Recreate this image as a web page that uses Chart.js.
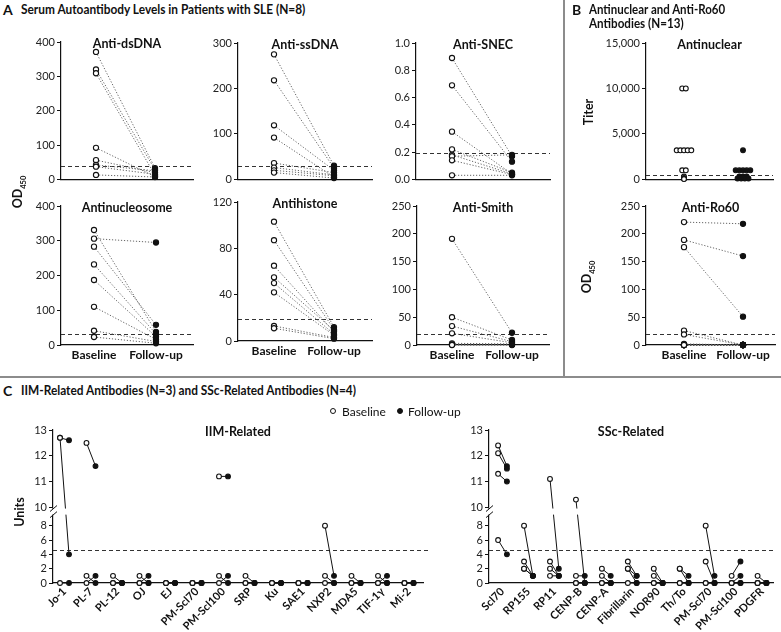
<!DOCTYPE html>
<html>
<head>
<meta charset="utf-8">
<title>Serum autoantibody levels</title>
<script src="https://cdn.jsdelivr.net/npm/chart.js@4.4.1/dist/chart.umd.min.js"></script>
<style>
  body { margin: 0; background: #fff; font-family: Lato, "Open Sans", sans-serif; color: #111; }
  #page { position: relative; width: 781px; height: 632px; overflow: hidden; }
  #charts canvas { position: absolute; }
  .txt { position: absolute; white-space: nowrap; transform-origin: 0 50%; }
  .head { font-weight: 700; font-size: 12.5px; line-height: 14px; }
  .letter { font-weight: 700; font-size: 14px; line-height: 14px; }
  .ylab { position: absolute; font-weight: 700; font-size: 12.5px; white-space: nowrap;
          transform: translate(-50%, -50%) rotate(-90deg); }
  .ylab sub { font-size: 7.5px; }
  .rule { position: absolute; background: #8c8c8c; }
  .legend { font-size: 12px; line-height: 14px; }
  .dot { position: absolute; width: 4px; height: 4px; border-radius: 50%; border: 1.2px solid #111; }
</style>
</head>
<body>
<div id="page">
  <div id="charts"></div>

  <div class="rule" style="left:563px; top:0; width:1.5px; height:376px"></div>
  <div class="rule" style="left:0; top:376px; width:781px; height:1.5px"></div>

  <div class="txt letter" style="left:3px; top:3px">A</div>
  <div class="txt head" style="left:21px; top:3px" data-w="284">Serum Autoantibody Levels in Patients with SLE (N=8)</div>
  <div class="txt letter" style="left:572px; top:3px">B</div>
  <div class="txt head" style="left:589px; top:3px" data-w="136">Antinuclear and Anti-Ro60</div>
  <div class="txt head" style="left:589px; top:17px" data-w="95">Antibodies (N=13)</div>
  <div class="txt letter" style="left:3px; top:384px">C</div>
  <div class="txt head" style="left:21px; top:384px" data-w="335">IIM-Related Antibodies (N=3) and SSc-Related Antibodies (N=4)</div>

  <div class="ylab" style="left:19px; top:192px">OD<sub>450</sub></div>
  <div class="ylab" style="left:588px; top:112px">Titer</div>
  <div class="ylab" style="left:588px; top:277px">OD<sub>450</sub></div>
  <div class="ylab" style="left:19px; top:512px">Units</div>

  <div class="dot" style="left:330px; top:408px; background:#fff"></div>
  <div class="txt legend" style="left:342px; top:405px">Baseline</div>
  <div class="dot" style="left:397px; top:408px; background:#111"></div>
  <div class="txt legend" style="left:408px; top:405px">Follow-up</div>
</div>

<script>
// ---- values ----
const timeLabels = ['Baseline', 'Follow-up'];

// Panel A, SLE (N=8), OD450
const dsDnaBase   = [371, 320, 309, 92, 56, 42, 37, 13];
const dsDnaFollow = [33, 28, 12, 8, 20, 25, 15, 7];
const ssDnaBase   = [275, 218, 119, 92, 36, 26, 20, 15];
const ssDnaFollow = [30, 25, 20, 5, 15, 10, 8, 3];
const snecBase    = [0.89, 0.69, 0.35, 0.22, 0.18, 0.17, 0.14, 0.03];
const snecFollow  = [0.17, 0.13, 0.04, 0.05, 0.04, 0.18, 0.035, 0.03];
const nucleosomeBase   = [331, 306, 283, 232, 187, 110, 41, 23];
const nucleosomeFollow = [38, 295, 58, 32, 24, 16, 10, 5];
const histoneBase   = [103, 87, 65, 55, 50, 42, 13, 11];
const histoneFollow = [12, 10, 8, 9, 6, 5, 3, 2];
const smithBase   = [191, 50, 34, 21, 3, 1, 0.5, 0];
const smithFollow = [22, 9, 6, 4, 2, 1, 0.5, 0];
const sleCutoffs  = [40, 30, 0.195, 32, 19, 20];

const ticks400 = [0, 100, 200, 300, 400];
const ticks300 = [0, 100, 200, 300];
const ticksSnec = [0, 0.2, 0.4, 0.6, 0.8, 1.0];
const ticks120 = [0, 40, 80, 120];
const ticks250 = [0, 50, 100, 150, 200, 250];

// Panel B (N=13)
const anaBase   = [10000, 10000, 3200, 3200, 3200, 3200, 3200, 1000, 1000, 320, 160, 80, 40];
const anaFollow = [3200, 1000, 1000, 1000, 1000, 1000, 320, 320, 320, 100, 100, 100, 100];
const anaTicks  = [0, 5000, 10000, 15000];
const anaCutoff = 500;
const ro60Base   = [221, 189, 176, 26, 19, 2, 0, 0, 0, 0, 0, 0, 0];
const ro60Follow = [218, 160, 51, 0, 0, 0, 0, 0, 0, 0, 0, 0, 0];
const ro60Cutoff = 20;

// Panel C, one row per patient
const iimNames = ['Jo-1', 'PL-7', 'PL-12', 'OJ', 'EJ', 'PM-Scl70', 'PM-Scl100', 'SRP', 'Ku', 'SAE1', 'NXP2', 'MDA5', 'TIF-1γ', 'Mi-2'];
const iimBase = [
  [12.7, 12.5, 1, 1, 0, 0, 11.2, 1, 0, 0, 8, 1, 1, 0],
  [12.7, 1, 0, 0, 0, 0, 1, 0, 0, 0, 1, 0, 0, 0],
  [0, 0, 0, 0, 0, 0, 0, 0, 0, 0, 0, 0, 0, 0]
];
const iimFollow = [
  [12.6, 11.6, 0, 0, 0, 0, 11.2, 0, 0, 0, 1, 0, 0, 0],
  [4, 0, 0, 1, 0, 0, 0, 0, 0, 0, 0, 0, 1, 0],
  [0, 1, 0, 0, 0, 0, 1, 0, 0, 0, 0, 0, 0, 0]
];
const sscNames = ['Scl70', 'RP155', 'RP11', 'CENP-B', 'CENP-A', 'Fibrillarin', 'NOR90', 'Th/To', 'PM-Scl70', 'PM-Scl100', 'PDGFR'];
const sscBase = [
  [12.4, 8, 11.1, 10.3, 2, 3, 2, 2, 8, 1, 1],
  [12.1, 3, 3, 1, 1, 2, 1, 2, 3, 0, 0],
  [11.3, 2, 2, 0, 0, 2, 0, 0, 0, 0, 0],
  [6, 2, 1, 0, 0, 0, 0, 0, 0, 0, 0]
];
const sscFollow = [
  [11.6, 1, 2, 0, 1, 1, 0, 1, 1, 3, 0],
  [11.5, 1, 1, 1, 0, 1, 0, 0, 0, 1, 0],
  [11.0, 1, 1, 0, 0, 0, 0, 0, 0, 0, 0],
  [4, 1, 1, 0, 0, 0, 0, 0, 0, 0, 0]
];
const unitTicks = [0, 2, 4, 6, 8, 10, 11, 12, 13];
const unitCutoff = 4.6;

// ---- broken y axis for panel C: 0-8 normal, 10-13 stretched ----
function toDisplay(v) {
  return v <= 8 ? v : 10.57 + (v - 10) * 3.6;
}

Chart.defaults.font.family = 'Lato';
Chart.defaults.color = '#222';
Chart.defaults.animation = false;
Chart.defaults.events = [];
Chart.defaults.plugins.legend.display = false;
Chart.defaults.plugins.tooltip.enabled = false;

const cutoffLine = {
  id: 'cutoff',
  beforeDatasetsDraw(chart, args, opts) {
    if (opts.value == null) return;
    const { ctx, chartArea, scales } = chart;
    const y = Math.round(scales.y.getPixelForValue(opts.value)) + 0.5;
    ctx.save();
    ctx.strokeStyle = '#333';
    ctx.lineWidth = 1;
    ctx.setLineDash([4, 3]);
    ctx.beginPath();
    ctx.moveTo(chartArea.left, y);
    ctx.lineTo(chartArea.right + (opts.extend || 0), y);
    ctx.stroke();
    ctx.restore();
  }
};

const panelTitle = {
  id: 'panelTitle',
  afterDraw(chart, args, opts) {
    if (!opts.text) return;
    const { ctx, chartArea } = chart;
    ctx.save();
    ctx.font = 'bold 12.5px Lato';
    ctx.fillStyle = '#111';
    ctx.textAlign = 'center';
    ctx.textBaseline = 'middle';
    ctx.fillText(opts.text, (chartArea.left + chartArea.right) / 2, chartArea.top + 2);
    ctx.restore();
  }
};

const axisBreak = {
  id: 'axisBreak',
  afterDraw(chart, args, opts) {
    if (!opts.on) return;
    const { ctx, chartArea, scales } = chart;
    const yTop = scales.y.getPixelForValue(10.4);
    const yBot = scales.y.getPixelForValue(9.55);
    ctx.save();
    ctx.fillStyle = '#fff';
    ctx.fillRect(chartArea.left - 2, yTop, chartArea.right - chartArea.left + 2, yBot - yTop);
    ctx.strokeStyle = '#111';
    ctx.lineWidth = 1;
    const x = chartArea.left;
    [yTop, yBot].forEach(y => {
      ctx.beginPath();
      ctx.moveTo(x - 3, y + 3);
      ctx.lineTo(x + 4, y - 3);
      ctx.stroke();
    });
    ctx.restore();
  }
};

function addCanvas(left, top, width, height) {
  const c = document.createElement('canvas');
  c.width = width;
  c.height = height;
  c.style.left = left + 'px';
  c.style.top = top + 'px';
  c.style.width = width + 'px';
  c.style.height = height + 'px';
  document.getElementById('charts').appendChild(c);
  return c;
}

function scalesFor(o) {
  return {
    x: {
      type: 'linear', min: o.xMin, max: o.xMax,
      afterFit: s => { s.height = o.xh; },
      afterBuildTicks: s => { s.ticks = o.xTicks.map(v => ({ value: v })); },
      grid: { display: false, drawTicks: false },
      border: { display: true, color: '#111', width: 1.2 },
      ticks: {
        display: !!o.xLabels, autoSkip: false,
        maxRotation: o.rotate || 0, minRotation: o.rotate || 0,
        padding: o.xPad ?? 3, color: '#111',
        font: { size: o.xSize || 12, weight: 'bold' },
        callback: (v, i) => (o.xLabels ? o.xLabels[i] : '')
      }
    },
    y: {
      type: 'linear', min: 0, max: o.yMax,
      afterFit: s => { s.width = o.yw; },
      afterBuildTicks: s => { s.ticks = o.yTicks.map(v => ({ value: v })); },
      grid: { drawOnChartArea: false, drawTicks: true, tickLength: 4, color: '#111', lineWidth: 1 },
      border: { display: true, color: '#111', width: 1.2 },
      ticks: { padding: 2, color: '#222', font: { size: 11 }, callback: (v, i) => o.yLabels[i] }
    }
  };
}

// pixel position of baseline / follow-up columns -> linear x range
function xRange(L, R, p0, p1) {
  const u = p1 - p0;
  return [(L - p0) / u, (R - p0) / u];
}

function makeChart(area, datasets, o, title, cutoff, extra) {
  const [L, T, R, B] = area;
  const padTop = 12, padRight = o.padRight ?? 6;
  const canvas = addCanvas(L - o.yw, T - padTop, R - L + o.yw + padRight, B - T + padTop + o.xh);
  return new Chart(canvas, {
    type: 'scatter',
    data: { datasets },
    options: {
      responsive: false,
      layout: { padding: { top: padTop, right: padRight, left: 0, bottom: 0 } },
      scales: scalesFor(o),
      plugins: {
        cutoff: { value: cutoff, extend: o.extend || 0 },
        panelTitle: { text: title },
        axisBreak: { on: !!o.broken }
      }
    },
    plugins: [cutoffLine, panelTitle, axisBreak].concat(extra || [])
  });
}

const openPt = { pointBackgroundColor: '#fff', pointBorderColor: '#111', pointBorderWidth: 1.1, pointRadius: 2.6, showLine: false, clip: false };
const filledPt = { pointBackgroundColor: '#111', pointBorderColor: '#111', pointBorderWidth: 1.1, pointRadius: 2.6, showLine: false, clip: false };

function pairedSets(base, follow, withLines) {
  const sets = [
    Object.assign({ data: follow.map(v => ({ x: 1, y: v })) }, filledPt),
    Object.assign({ data: base.map(v => ({ x: 0, y: v })) }, openPt)
  ];
  if (withLines) {
    base.forEach((b, i) => sets.push({
      data: [{ x: 0, y: b }, { x: 1, y: follow[i] }],
      showLine: true, pointRadius: 0, borderColor: '#555', borderWidth: 0.9,
      borderDash: [1.2, 1.8], clip: false
    }));
  }
  return sets;
}

// equal values spread side by side, as in the figure
function swarm(values, col, step) {
  const seen = {};
  const counts = {};
  values.forEach(v => { counts[v] = (counts[v] || 0) + 1; });
  return values.map(v => {
    const k = seen[v] = (seen[v] ?? -1) + 1;
    return { x: col + (k - (counts[v] - 1) / 2) * step, y: v };
  });
}

function fmtTicks(t, dp) { return t.map(v => dp ? v.toFixed(dp) : v.toLocaleString('en-US')); }

// ---- Panel A ----
const slePanels = [
  { title: 'Anti-dsDNA', base: dsDnaBase, follow: dsDnaFollow, ticks: ticks400, area: [61, 42, 193, 180], cols: [96, 155] },
  { title: 'Anti-ssDNA', base: ssDnaBase, follow: ssDnaFollow, ticks: ticks300, area: [238, 43, 372, 180], cols: [274, 334] },
  { title: 'Anti-SNEC', base: snecBase, follow: snecFollow, ticks: ticksSnec, dp: 1, area: [416, 43, 550, 180], cols: [452, 512] },
  { title: 'Antinucleosome', base: nucleosomeBase, follow: nucleosomeFollow, ticks: ticks400, area: [61, 206, 193, 345], cols: [94, 156], labels: true },
  { title: 'Antihistone', base: histoneBase, follow: histoneFollow, ticks: ticks120, area: [238, 202, 372, 341], cols: [274, 334], labels: true },
  { title: 'Anti-Smith', base: smithBase, follow: smithFollow, ticks: ticks250, area: [417, 206, 549, 345], cols: [452, 512], labels: true }
];

slePanels.forEach((p, i) => {
  const [xMin, xMax] = xRange(p.area[0], p.area[2], p.cols[0], p.cols[1]);
  makeChart(p.area, pairedSets(p.base, p.follow, true), {
    xMin, xMax, xTicks: [0, 1], xLabels: p.labels ? timeLabels : null, xh: p.labels ? 24 : 8,
    yMax: p.ticks[p.ticks.length - 1], yTicks: p.ticks, yLabels: fmtTicks(p.ticks, p.dp), yw: 40
  }, p.title, sleCutoffs[i]);
});

// ---- Panel B ----
(function () {
  const area = [646, 43, 773, 180];
  const [xMin, xMax] = xRange(area[0], area[2], 684, 743);
  const sets = [
    Object.assign({ data: swarm(anaFollow, 1, 0.062) }, filledPt, { pointRadius: 2.4 }),
    Object.assign({ data: swarm(anaBase, 0, 0.062) }, openPt, { pointRadius: 2.4 })
  ];
  makeChart(area, sets, {
    xMin, xMax, xTicks: [0, 1], xLabels: null, xh: 8, padRight: 8,
    yMax: 15000, yTicks: anaTicks, yLabels: fmtTicks(anaTicks), yw: 56
  }, 'Antinuclear', anaCutoff);
})();

(function () {
  const area = [646, 206, 775, 345];
  const [xMin, xMax] = xRange(area[0], area[2], 684, 743);
  makeChart(area, pairedSets(ro60Base, ro60Follow, true), {
    xMin, xMax, xTicks: [0, 1], xLabels: timeLabels, xh: 24, padRight: 6,
    yMax: 250, yTicks: ticks250, yLabels: fmtTicks(ticks250), yw: 40
  }, 'Anti-Ro60', ro60Cutoff);
})();

// ---- Panel C ----
function patientSets(base, follow, off) {
  const lines = [], opens = [], fills = [];
  base.forEach((row, p) => {
    const data = [];
    row.forEach((b, i) => {
      const f = follow[p][i];
      data.push({ x: i - off, y: toDisplay(b) }, { x: i + off, y: toDisplay(f) }, { x: i + 0.5, y: null });
      opens.push({ x: i - off, y: toDisplay(b) });
      fills.push({ x: i + off, y: toDisplay(f) });
    });
    lines.push({ data, showLine: true, spanGaps: false, pointRadius: 0, borderColor: '#111', borderWidth: 1, clip: false });
  });
  return [
    Object.assign({ data: opens }, openPt, { pointRadius: 2.4 }),
    Object.assign({ data: fills }, filledPt, { pointRadius: 2.4 })
  ].concat(lines);
}

function unitsChart(area, names, base, follow, c0, spacing, title, extend) {
  const xMin = (area[0] - c0) / spacing, xMax = (area[2] - c0) / spacing;
  makeChart(area, patientSets(base, follow, 0.17), {
    xMin, xMax, xTicks: names.map((n, i) => i), xLabels: names, xh: 632 - area[3],
    rotate: 45, xSize: 11, xPad: 2, padRight: 8, extend,
    yMax: toDisplay(13), yTicks: unitTicks.map(toDisplay), yLabels: unitTicks.map(String),
    yw: area[0] - 1 - (area[0] > 400 ? 440 : 0), broken: true
  }, title, unitCutoff);
}

unitsChart([53, 430, 423, 583], iimNames, iimBase, iimFollow, 64.5, 26.5, 'IIM-Related', 7);
unitsChart([489, 430, 773, 583], sscNames, sscBase, sscFollow, 502.5, 25.95, 'SSc-Related', 0);

// squeeze the headings to the width they have in the figure
document.querySelectorAll('[data-w]').forEach(el => {
  const w = +el.dataset.w;
  el.style.transform = 'scaleX(' + (w / el.offsetWidth).toFixed(3) + ')';
});
</script>
</body>
</html>
